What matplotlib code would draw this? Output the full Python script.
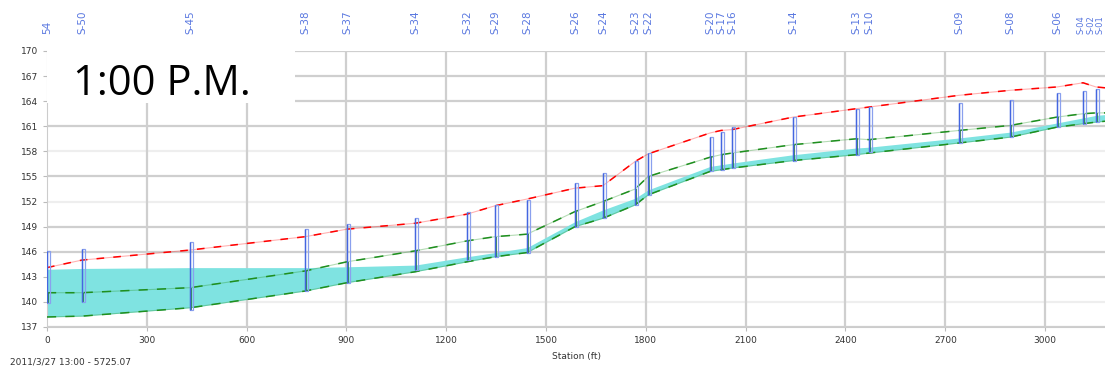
"""Water-surface profile along the river, 1:00 P.M. snapshot."""
import numpy as np
import matplotlib
matplotlib.use("Agg")
import matplotlib.pyplot as plt
from matplotlib.patches import Rectangle
from matplotlib.transforms import blended_transform_factory

# cross-section stations (ft) and their labels
station = [0, 105, 430, 776, 902, 1106, 1263, 1347, 1443, 1587, 1671, 1768,
           1807, 1993, 2026, 2059, 2243, 2432, 2471, 2741, 2895, 3036, 3114,
           3153, 3180]
xs_label = ["54", "S-50", "S-45", "S-38", "S-37", "S-34", "S-32", "S-29",
            "S-28", "S-26", "S-24", "S-23", "S-22", "S-20", "S-17", "S-16",
            "S-14", "S-13", "S-10", "S-09", "S-08", "S-06", "S-04", "S-02",
            "S-01"]

# profiles (ft) at each station
bank_top = [144.1, 145.0, 146.2, 147.8, 148.7, 149.4, 150.5, 151.5, 152.3,
            153.6, 153.9, 156.8, 157.7, 160.2, 160.5, 160.6, 162.1, 163.1,
            163.3, 164.7, 165.3, 165.7, 166.2, 165.7, 165.6]
levee = [141.1, 141.1, 141.7, 143.7, 144.8, 146.1, 147.3, 147.8, 148.1,
         150.8, 152.0, 153.5, 155.0, 157.3, 157.6, 157.8, 158.8, 159.5,
         159.4, 160.5, 161.1, 162.1, 162.5, 162.6, 162.6]
ground = [138.2, 138.3, 139.3, 141.3, 142.3, 143.6, 144.8, 145.4, 145.9,
          149.0, 150.0, 151.6, 152.8, 155.6, 155.8, 156.0, 156.9, 157.6,
          157.8, 159.0, 159.7, 160.9, 161.3, 161.5, 161.6]
wsel = [143.9, 144.0, 144.1, 144.1, 144.2, 144.4, 145.4, 145.9, 146.5,
        149.6, 151.0, 152.4, 153.4, 156.2, 156.4, 156.6, 157.6, 158.4,
        158.5, 159.6, 160.3, 161.4, 162.0, 162.3, 162.4]

# structure (bridge) top / bottom at the first 24 stations
struct_top = [146.1, 146.3, 147.2, 148.7, 149.3, 150.0, 150.8, 151.6, 152.2,
              154.2, 155.4, 156.8, 157.8, 159.7, 160.3, 160.9, 162.1, 163.1,
              163.3, 163.8, 164.1, 165.0, 165.2, 165.5]
struct_bot = [139.9, 140.0, 139.0, 141.3, 142.3, 143.8, 145.0, 145.4, 145.9,
              149.0, 150.0, 151.6, 152.8, 155.6, 155.8, 156.0, 156.9, 157.6,
              157.9, 159.0, 159.7, 160.9, 161.3, 161.5]

W, H = 1105, 372
fig = plt.figure(figsize=(W / 100, H / 100), dpi=100)
ax = fig.add_axes([47 / W, 1 - 327 / H, 1 - 47 / W, (327 - 51) / H])
ax.set_xlim(0, 3180)
ax.set_ylim(137, 170)

yt = np.arange(137, 171, 3)
for y in yt:
    faint = y in (140, 152, 158)
    ax.axhline(y, color="#cfcfcf", lw=1.6, alpha=0.35 if faint else 1, zorder=0)
for x in range(300, 3001, 300):
    ax.axvline(x, color="#cfcfcf", lw=1.6, zorder=0)

ax.fill_between(station, ground, wsel, color="#7fe3e1", lw=0, zorder=1)

# lines: faint solid underlay + dashed on top
ax.plot(station, bank_top, color="red", lw=0.8, alpha=0.3, zorder=3)
ax.plot(station, bank_top, color="red", lw=1.1, ls=(0, (5, 6)), zorder=3)
ax.plot(station, levee, color="#2a9a2a", lw=0.8, alpha=0.35, zorder=3)
ax.plot(station, levee, color="#1f8f1f", lw=1.1, ls=(0, (6, 6)), zorder=3)
ax.plot(station, ground, color="#2a9a2a", lw=0.8, alpha=0.35, zorder=3)
ax.plot(station, ground, color="#1f8f1f", lw=1.1, ls=(0, (6, 6)), zorder=3)

for s, t, b, lv in zip(station, struct_top, struct_bot, levee):
    ax.vlines(s + 3, b, min(lv, t), color="#1a7a1a", lw=1.2, zorder=4)
    ax.add_patch(Rectangle((s, b), 9, t - b, fill=False, ec="#8aa0ee",
                           lw=0.9, zorder=5))
    ax.vlines(s, b, t, color="#4466e0", lw=1.0, zorder=5)

ax.set_xticks(range(0, 3001, 300))
ax.set_yticks(yt)
ax.tick_params(labelsize=6.5, colors="#333333", length=3, color="#bbbbbb")
for sp in ax.spines.values():
    sp.set_color("#cccccc")
ax.spines["top"].set_visible(False)
ax.spines["right"].set_visible(False)

# section names along the top; the crowded last three get nudged left
tr = blended_transform_factory(ax.transData, fig.transFigure)
nudge = {22: -2, 23: -5, 24: -5}
for i, (s, lab) in enumerate(zip(station, xs_label)):
    ax.annotate(lab, (s, 1 - 34 / H), xycoords=tr,
                xytext=(nudge.get(i, 0), 0), textcoords="offset pixels",
                rotation=90, ha="center", va="bottom",
                fontsize=6 if i in nudge else 7.5, color="#5a78e0",
                annotation_clip=False)

fig.text(0.5 * (1 + 47 / W), 1 - 356 / H, "Station (ft)", ha="center",
         va="center", fontsize=6.5, color="#333333")
fig.text(10 / W, 1 - 362 / H, "2011/3/27 13:00 - 5725.07", ha="left",
         va="center", fontsize=6.5, color="#333333")

# white label box over the upper-left corner
fig.add_artist(Rectangle((47 / W, 1 - 103 / H), (295 - 47) / W, 55 / H,
                         transform=fig.transFigure, fc="white", ec="none",
                         zorder=10))
fig.text(73 / W, 1 - 84 / H, "1:00 P.M.", ha="left", va="center",
         fontsize=30, family="Open Sans", color="black", zorder=11)

fig.savefig("out.png", dpi=100)
